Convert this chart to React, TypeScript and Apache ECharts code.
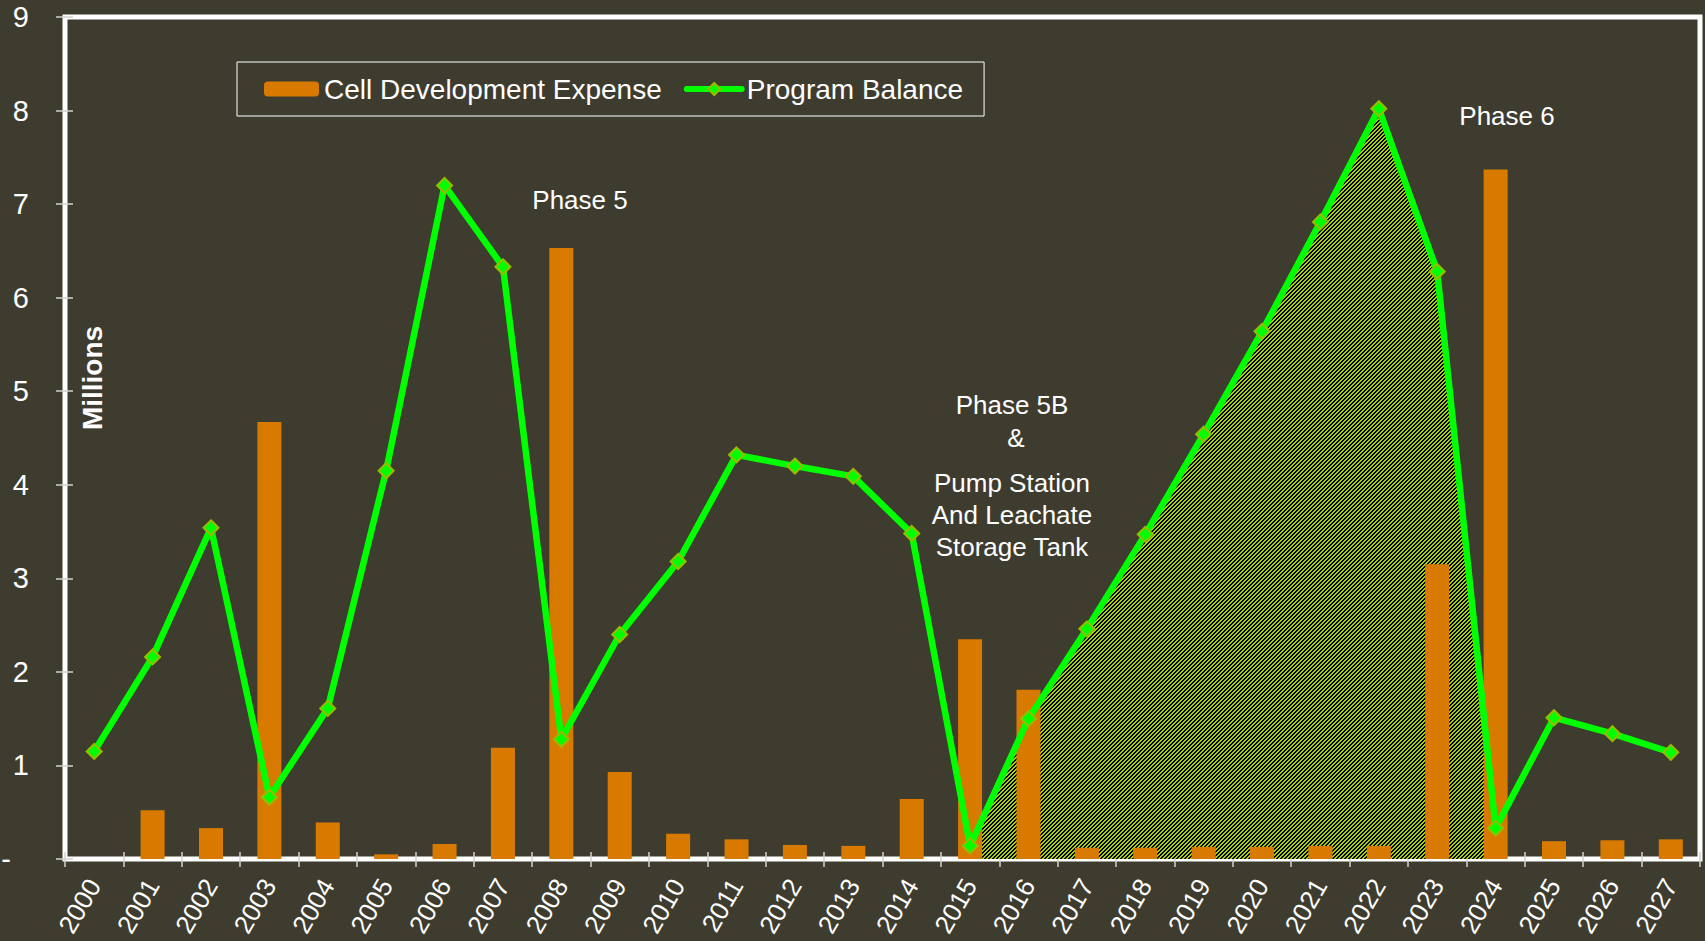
import React, { useEffect, useRef } from 'react';
import * as echarts from 'echarts';

const years = [
  '2000', '2001', '2002', '2003', '2004', '2005', '2006', '2007', '2008', '2009',
  '2010', '2011', '2012', '2013', '2014', '2015', '2016', '2017', '2018', '2019',
  '2020', '2021', '2022', '2023', '2024', '2025', '2026', '2027',
];

const cellDevelopmentExpense = [
  0, 0.52, 0.33, 4.67, 0.39, 0.05, 0.16, 1.19, 6.53, 0.93,
  0.27, 0.21, 0.15, 0.14, 0.64, 2.35, 1.81, 0.12, 0.12, 0.13,
  0.13, 0.14, 0.14, 3.15, 7.37, 0.19, 0.2, 0.21,
];

const programBalance = [
  1.15, 2.16, 3.54, 0.66, 1.61, 4.15, 7.2, 6.33, 1.28, 2.4,
  3.18, 4.32, 4.2, 4.09, 3.48, 0.14, 1.5, 2.46, 3.47, 4.54,
  5.64, 6.81, 8.02, 6.28, 0.33, 1.51, 1.34, 1.14,
];

const phase6Fill = [
  null, null, null, null, null, null, null, null, null, null,
  null, null, null, null, null, 0.14, 1.5, 2.46, 3.47, 4.54,
  5.64, 6.81, 8.02, 6.28, 0, null, null, null,
];

const yMin = 0;
const yMax = 9;
const yInterval = 1;

const FONT = "'Liberation Sans', Arial, sans-serif";

function makeHatch(): string {
  const c = document.createElement('canvas');
  c.width = 4;
  c.height = 4;
  const ctx = c.getContext('2d')!;
  ctx.fillStyle = '#000000';
  ctx.fillRect(0, 0, 4, 4);
  ctx.fillStyle = '#A6D000';
  for (let x = 0; x < 4; x++) {
    for (let y = 0; y < 4; y++) {
      const k = (x + y) % 4;
      if (k === 0 || k === 1) ctx.fillRect(x, y, 1, 1);
    }
  }
  return c.toDataURL();
}

export default function App() {
  const ref = useRef<HTMLDivElement>(null);
  useEffect(() => {
    document.body.style.margin = '0';
    const chart = echarts.init(ref.current!, null, { renderer: 'svg' });
    const gridLeft = 65;
    const gridRight = 5;
    const gridTop = 17;
    const gridBottom = 82;
    const gridW = 1705 - gridLeft - gridRight;
    const gridH = 941 - gridTop - gridBottom;
    const tickStyle = { color: '#d0d0d0', width: 1.5 };
    const option: any = {
      animation: false,
      backgroundColor: '#3E3C2F',
      textStyle: { fontFamily: FONT },
      grid: {
        left: gridLeft,
        right: gridRight,
        top: gridTop,
        bottom: gridBottom,
        show: true,
        borderColor: '#ffffff',
        borderWidth: 5,
        backgroundColor: 'transparent',
        outerBoundsMode: 'none',
      },
      legend: {
        data: ['Cell Development Expense', 'Program Balance'],
        left: 237,
        top: 62,
        padding: [13, 21, 13, 27],
        itemGap: 22,
        itemWidth: 55,
        itemHeight: 15,
        borderColor: '#ffffff',
        borderWidth: 1,
        lineStyle: { width: 6, cap: 'round' },
        textStyle: { color: '#ffffff', fontSize: 28, fontFamily: FONT },
      },
      xAxis: [
        {
          type: 'category',
          data: years,
          axisLine: { show: false },
          axisTick: { show: true, length: 8, lineStyle: tickStyle },
          axisLabel: {
            color: '#ffffff',
            fontSize: 26,
            fontFamily: FONT,
            rotate: 60,
            margin: 22,
            interval: 0,
          },
          splitLine: { show: false },
        },
        {
          type: 'category',
          data: years,
          position: 'top',
          offset: -gridH,
          axisLine: { show: false },
          axisTick: { show: true, length: 7, lineStyle: tickStyle },
          axisLabel: { show: false },
          splitLine: { show: false },
        },
      ],
      yAxis: [
        {
          type: 'value',
          min: yMin,
          max: yMax,
          interval: yInterval,
          axisLine: { show: false },
          splitLine: { show: false },
          axisTick: { show: true, length: 9, lineStyle: tickStyle },
          axisLabel: {
            margin: 36,
            formatter: (v: number) => (v === 0 ? '{d|-}' : '{n|' + v + '}'),
            rich: {
              n: { color: '#ffffff', fontSize: 29, fontFamily: FONT },
              d: { color: '#ffffff', fontSize: 29, fontFamily: FONT, padding: [0, 18, 0, 0] },
            },
          },
        },
        {
          type: 'value',
          min: yMin,
          max: yMax,
          interval: yInterval,
          position: 'right',
          offset: -gridW,
          axisLine: { show: false },
          splitLine: { show: false },
          axisTick: { show: true, length: 8, lineStyle: tickStyle },
          axisLabel: { show: false },
        },
      ],
      series: [
        {
          name: 'Phase 6 Fill',
          type: 'line',
          data: phase6Fill,
          xAxisIndex: 0,
          yAxisIndex: 0,
          symbol: 'none',
          silent: true,
          z: 1,
          lineStyle: { color: '#8CA800', width: 2 },
          areaStyle: {
            opacity: 1,
            color: { image: makeHatch(), repeat: 'repeat', imageWidth: 4, imageHeight: 4 },
          },
        },
        {
          name: 'Cell Development Expense',
          type: 'bar',
          data: cellDevelopmentExpense,
          xAxisIndex: 0,
          yAxisIndex: 0,
          barWidth: 24,
          z: 2,
          itemStyle: { color: '#D97A00' },
        },
        {
          name: 'Program Balance',
          type: 'line',
          data: programBalance,
          xAxisIndex: 0,
          yAxisIndex: 0,
          z: 3,
          symbol: 'diamond',
          symbolSize: 15,
          lineStyle: { color: '#00FF00', width: 6.5 },
          itemStyle: { color: '#00FF00', borderColor: '#99BB00', borderWidth: 2 },
        },
      ],
      graphic: [
        {
          type: 'text',
          x: 92,
          y: 378,
          rotation: Math.PI / 2,
          style: {
            text: 'Millions',
            fill: '#ffffff',
            fontSize: 28,
            fontWeight: 'bold',
            fontFamily: FONT,
            align: 'center',
            verticalAlign: 'middle',
          },
        },
        {
          type: 'text',
          x: 580,
          y: 200,
          style: { text: 'Phase 5', fill: '#ffffff', fontSize: 26, fontFamily: FONT, align: 'center', verticalAlign: 'middle' },
        },
        {
          type: 'text',
          x: 1507,
          y: 116,
          style: { text: 'Phase 6', fill: '#ffffff', fontSize: 26, fontFamily: FONT, align: 'center', verticalAlign: 'middle' },
        },
        {
          type: 'text',
          x: 1012,
          y: 405,
          style: { text: 'Phase 5B', fill: '#ffffff', fontSize: 26, fontFamily: FONT, align: 'center', verticalAlign: 'middle' },
        },
        {
          type: 'text',
          x: 1016,
          y: 438,
          style: { text: '&', fill: '#ffffff', fontSize: 26, fontFamily: FONT, align: 'center', verticalAlign: 'middle' },
        },
        {
          type: 'text',
          x: 1012,
          y: 515,
          style: {
            text: 'Pump Station\nAnd Leachate\nStorage Tank',
            fill: '#ffffff',
            fontSize: 26,
            lineHeight: 32,
            fontFamily: FONT,
            align: 'center',
            verticalAlign: 'middle',
          },
        },
      ],
    };
    chart.setOption(option);
    return () => chart.dispose();
  }, []);
  return <div ref={ref} style={{ width: 1705, height: 941 }} />;
}
